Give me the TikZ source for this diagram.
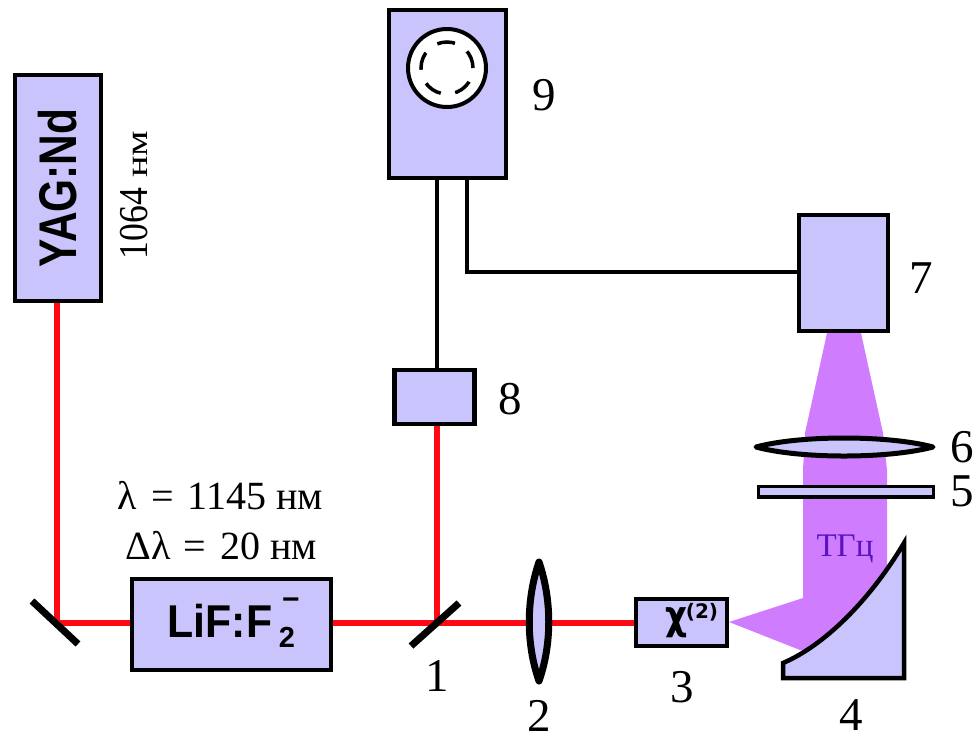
\documentclass[tikz,border=0pt]{standalone}
\usepackage{fontspec}
\setmainfont{Liberation Serif}
\newfontfamily\boldsans{Liberation Sans Bold}
\newfontfamily\chifont{DejaVu Sans Bold}
\newcommand{\fs}[1]{\fontsize{#1}{#1}\selectfont}
\definecolor{boxfill}{HTML}{C9C5FC}
\definecolor{beam}{HTML}{CF7CFF}
\definecolor{redbeam}{HTML}{FF0A14}
\definecolor{thz}{HTML}{5A12C4}
\tikzset{
  unit/.style={draw=black,fill=boxfill,line width=4.5pt,inner sep=0pt,anchor=center},
  num/.style={inner sep=0pt,font=\fs{47}},
  wave/.style={inner sep=0pt,font=\fs{40}},
  lbl/.style={inner sep=0pt,font=\boldsans},
  laser/.style={draw=redbeam,line width=6pt},
  wire/.style={draw=black,line width=4.5pt},
  mirror/.style={draw=black,line width=7pt}
}
\begin{document}
\begin{tikzpicture}[x=1pt,y=-1pt]
\useasboundingbox (0,0) rectangle (980,740);
% THz beam
\fill[beam] (729,622) -- (803,598) -- (803,470) -- (805,433) -- (827,333) -- (861,333) -- (883,433) -- (887,470) -- (887,590) -- (860,660) -- (800,650) -- cycle;
% units
\node[unit,minimum width=86pt,minimum height=226pt] (yag) at (58,188) {};
\node[lbl,rotate=90] (yagl) at (58,188) {\fs{53}\scalebox{.8}[1]{YAG:Nd}};
\node[unit,minimum width=199pt,minimum height=91pt] (lif) at (231.5,624.5) {};
\node[lbl] (lifl) at (220,621) {\fs{46}\scalebox{.93}[1]{LiF:F}};
\node[lbl] (lifs) at (287,637) {\fs{29}2};
\node[lbl] (lifm) at (291,604) {\fs{30}\char"2212};
\node[unit,minimum width=80pt,minimum height=54pt] (b8) at (434.5,397) {};
\node[unit,minimum width=117pt,minimum height=168pt] (b9) at (447.5,94) {};
\node[unit,minimum width=89pt,minimum height=116pt] (b7) at (843.5,273) {};
\node[unit,minimum width=91pt,minimum height=47pt] (chi) at (681.5,622.5) {};
\node[inner sep=0pt,font=\chifont\fs{40}] (chil) at (676,623) {\scalebox{.85}[1]{χ}};
\node[lbl,font=\chifont\fs{20}] (chis) at (702,612) {(2)};
% wheel
\node[circle,draw=black,fill=white,line width=4pt,minimum size=78pt,inner sep=0pt] (wheel) at (447,68) {};
\node[circle,draw=black,line width=3.5pt,minimum size=52pt,inner sep=0pt,dash pattern=on 18pt off 14.67pt] (wheelin) at (447,68) {};
% connectors
\coordinate (m0) at (57,623);
\coordinate (m1) at (437,623);
\coordinate (w1) at (467,272);
\draw[laser] (yag.south -| m0) -- (m0) -- (lif.west |- m0);
\draw[laser] (lif.east |- m1) -- (m1) -- (chi.west |- m1);
\draw[laser] (m1) -- (b8.south -| m1);
\draw[wire] (b9.south -| m1) -- (b8.north -| m1);
\draw[wire] (b9.south -| w1) -- (w1) -- (b7.west |- w1);
% mirrors
\draw[mirror] (32,601) -- (78,644);
\draw[mirror] (459,603) -- (411,646);
% lens 2
\draw[fill=boxfill,line width=7pt,line join=round] (539,562) .. controls (526,600) and (526,644) .. (539,681) .. controls (552,644) and (552,600) .. (539,562) -- cycle;
% parabolic mirror 4
\draw[fill=boxfill,line width=4.5pt,line join=miter] (783,663) .. controls (825,645) and (870,600) .. (904,543) -- (904,678) -- (783,678) -- cycle;
% plate 5, lens 6
\draw[fill=boxfill,line width=3.5pt] (758.5,486.5) rectangle (933.5,497);
\draw[fill=boxfill,line width=5pt,line join=round] (756,447) .. controls (800,435) and (888,435) .. (933,447) .. controls (888,459) and (800,459) .. (756,447) -- cycle;
% labels
\node[font=\fs{33},text=thz,inner sep=0pt] (thzl) at (845,549) {ТГц};
\node[num] (n1) at (437,676) {1};
\node[num] (n2) at (539,716) {2};
\node[num] (n3) at (682,687) {3};
\node[num] (n4) at (851,715) {4};
\node[num] (n5) at (962,491) {5};
\node[num] (n6) at (962,447) {6};
\node[num] (n7) at (921,278) {7};
\node[num] (n8) at (510,399) {8};
\node[num] (n9) at (544,95) {9};
\node[wave] (w1l) at (220.5,496) {λ\hspace{4pt} = \hspace{4pt}1145 \fs{40}нм};
\node[wave] (w2l) at (221.5,546) {Δλ \hspace{3pt}= \hspace{4pt}20 \fs{40}нм};
\node[wave,rotate=90] (w3l) at (134,195) {\fs{41}\scalebox{.87}[1]{1064} \fs{31}\scalebox{1.3}[1]{нм}};
\end{tikzpicture}
\end{document}
